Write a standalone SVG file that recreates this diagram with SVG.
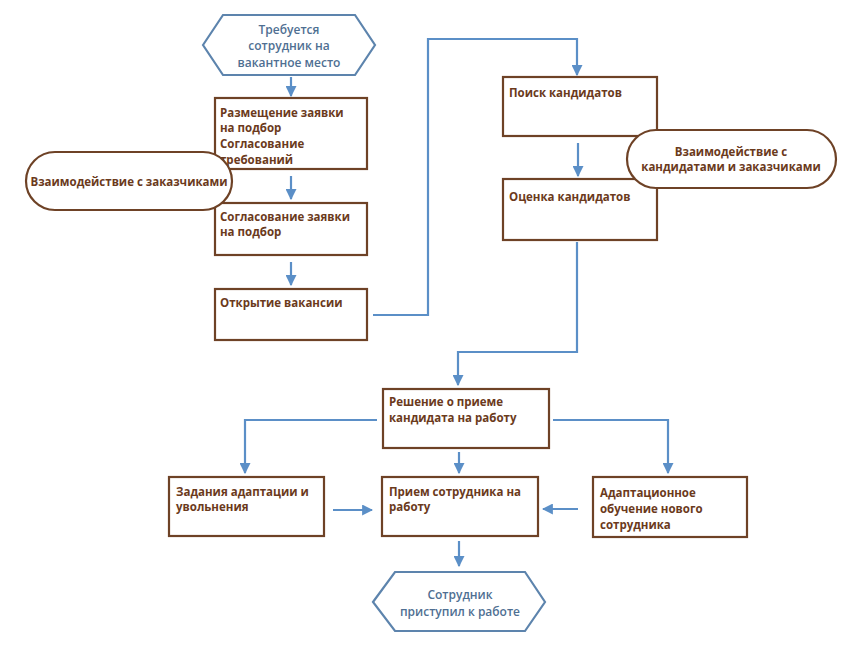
<svg xmlns="http://www.w3.org/2000/svg" width="867" height="649" viewBox="0 0 867 649">
<style>
.box{fill:#fff;stroke:#6e4226;stroke-width:2.2}
.pill{fill:#fff;stroke:#6e4226;stroke-width:2.2}
.hex{fill:#fff;stroke:#5d84ad;stroke-width:2.2}
.t{font-family:"Open Sans","Noto Sans",sans-serif;font-weight:700;font-size:11.5px;fill:#6b3a1c}
.h{font-family:"Open Sans","Noto Sans",sans-serif;font-weight:600;font-size:12px;fill:#4f6f92;text-anchor:middle}
.c{fill:none;stroke:#5b8fc7;stroke-width:2.2}
</style>
<defs>
<marker id="ar" viewBox="0 0 10 10" refX="9" refY="5" markerWidth="5" markerHeight="5" orient="auto" markerUnits="strokeWidth">
<path d="M0,0 L10,5 L0,10 z" fill="#5b8fc7"/>
</marker>
</defs>
<rect width="867" height="649" fill="#fff"/>
<g id="connectors">
<line class="c" x1="291" y1="77" x2="291" y2="96" marker-end="url(#ar)"/>
<line class="c" x1="291" y1="176" x2="291" y2="199" marker-end="url(#ar)"/>
<line class="c" x1="291" y1="262" x2="291" y2="285" marker-end="url(#ar)"/>
<polyline class="c" points="373,315 428,315 428,39 577,39 577,75" marker-end="url(#ar)"/>
<line class="c" x1="578" y1="143" x2="578" y2="176" marker-end="url(#ar)"/>
<polyline class="c" points="577,242 577,352 458,352 458,385" marker-end="url(#ar)"/>
<polyline class="c" points="377,420 245,420 245,473" marker-end="url(#ar)"/>
<polyline class="c" points="553,420 668,420 668,473" marker-end="url(#ar)"/>
<line class="c" x1="459" y1="452" x2="459" y2="473" marker-end="url(#ar)"/>
<line class="c" x1="333" y1="510" x2="372" y2="510" marker-end="url(#ar)"/>
<line class="c" x1="578" y1="509" x2="543" y2="509" marker-end="url(#ar)"/>
<line class="c" x1="459" y1="541" x2="459" y2="566" marker-end="url(#ar)"/>
</g>
<g id="start">
<polygon class="hex" points="203,45 223,15 355,15 375,45 355,75 223,75"/>
<text class="h" x="289" y="34">Требуется</text>
<text class="h" x="289" y="50">сотрудник на</text>
<text class="h" x="289" y="67">вакантное место</text>
</g>
<g id="n1">
<rect class="box" x="215" y="98" width="152" height="71"/>
<text class="t" x="220" y="117">Размещение заявки</text>
<text class="t" x="220" y="132">на подбор</text>
<text class="t" x="220" y="148">Согласование</text>
<text class="t" x="220" y="164">требований</text>
</g>
<g id="n2">
<rect class="box" x="215" y="203" width="152" height="52"/>
<text class="t" x="220" y="221">Согласование заявки</text>
<text class="t" x="220" y="236">на подбор</text>
</g>
<g id="n3">
<rect class="box" x="215" y="289" width="152" height="51"/>
<text class="t" x="220" y="307">Открытие вакансии</text>
</g>
<g id="pill1">
<rect class="pill" x="26" y="152" width="206" height="58" rx="29" ry="29"/>
<text class="t" x="129" y="186" text-anchor="middle">Взаимодействие с заказчиками</text>
</g>
<g id="n4">
<rect class="box" x="503" y="77" width="154" height="59"/>
<text class="t" x="509" y="97">Поиск кандидатов</text>
</g>
<g id="n5">
<rect class="box" x="503" y="179" width="154" height="61"/>
<text class="t" x="509" y="201">Оценка кандидатов</text>
</g>
<g id="pill2">
<rect class="pill" x="627" y="130" width="209" height="58" rx="29" ry="29"/>
<text class="t" x="731" y="156" text-anchor="middle">Взаимодействие с</text>
<text class="t" x="731" y="171" text-anchor="middle">кандидатами и заказчиками</text>
</g>
<g id="n6">
<rect class="box" x="383" y="389" width="166" height="59"/>
<text class="t" x="389" y="406">Решение о приеме</text>
<text class="t" x="389" y="422">кандидата на работу</text>
</g>
<g id="n7">
<rect class="box" x="169" y="477" width="155" height="59"/>
<text class="t" x="176" y="496">Задания адаптации и</text>
<text class="t" x="176" y="511">увольнения</text>
</g>
<g id="n8">
<rect class="box" x="382" y="477" width="156" height="59"/>
<text class="t" x="389" y="496">Прием сотрудника на</text>
<text class="t" x="389" y="511">работу</text>
</g>
<g id="n9">
<rect class="box" x="593" y="477" width="154" height="60"/>
<text class="t" x="600" y="497">Адаптационное</text>
<text class="t" x="600" y="513">обучение нового</text>
<text class="t" x="600" y="529">сотрудника</text>
</g>
<g id="end">
<polygon class="hex" points="373,602 395,572 525,572 545,602 525,631 395,631"/>
<text class="h" x="460" y="599">Сотрудник</text>
<text class="h" x="460" y="616">приступил к работе</text>
</g>
</svg>
